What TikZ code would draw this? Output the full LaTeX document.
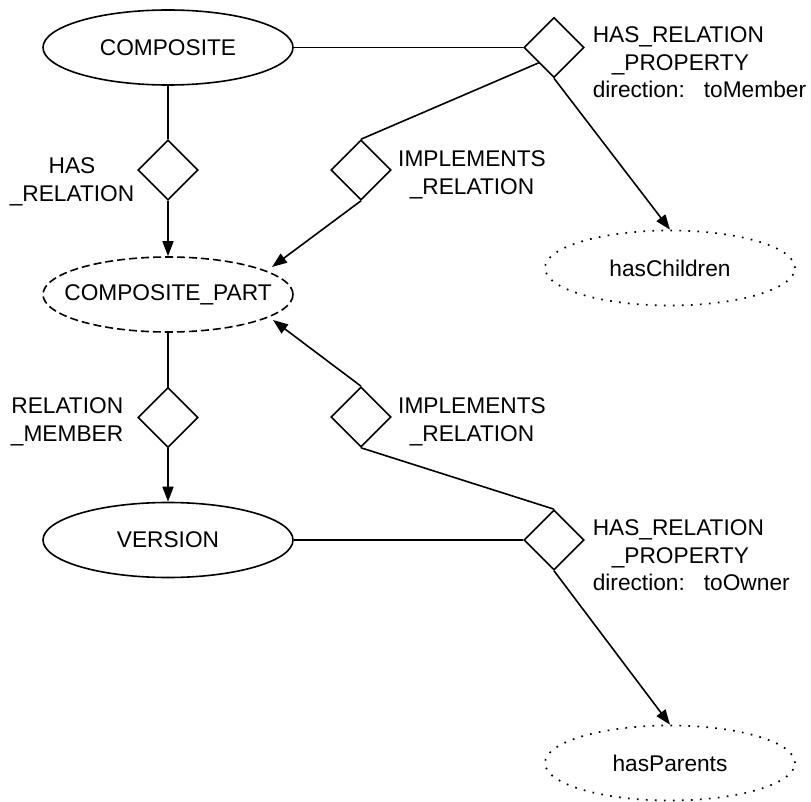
\documentclass[tikz,border=0pt]{standalone}
\usepackage{fontspec}
\setmainfont{Liberation Sans}
\usetikzlibrary{shapes.geometric,arrows.meta,calc}
% text that does not enlarge the ellipse around it
\newcommand\entitytext[1]{\makebox[0pt]{#1}}
\begin{document}
\begin{tikzpicture}[x=1pt,y=-1pt,
  font=\fontsize{22.7}{27.5}\selectfont,
  line width=1.6pt,
  entity/.style={ellipse,draw,minimum width=250pt,minimum height=75pt,inner sep=0pt},
  partentity/.style={entity,dash pattern=on 8pt off 4pt},
  attrentity/.style={entity,line width=1.7pt,dash pattern=on 1.7pt off 7.3pt},
  rel/.style={diamond,draw,shape aspect=1,minimum width=60pt,minimum height=60pt,inner sep=0pt},
  lbl/.style={inner sep=0pt},
  arr/.style={-{Triangle[length=15pt,width=11pt]}}
]
\useasboundingbox (0,0) rectangle (811,802);

% entities
\node[entity]      (composite)   at (168,47.5)  {\entitytext{COMPOSITE}};
\node[partentity]  (cpart)       at (168,294.5) {\entitytext{COMPOSITE\_PART}};
\node[entity]      (version)     at (168,540)   {\entitytext{VERSION}};
\node[attrentity]  (haschildren) at (670,268)   {\entitytext{hasChildren}};
\node[attrentity]  (hasparents)  at (670,763)   {\entitytext{hasParents}};

% relationships
\node[rel] (hasrel)  at (168,170)   {};
\node[rel] (relmem)  at (168,417.5) {};
\node[rel] (hrpTop)  at (554,47.5)  {};
\node[rel] (hrpBot)  at (554,540)   {};
\node[rel] (implTop) at (361,170)   {};
\node[rel] (implBot) at (361,417)   {};

% arrow ends on the part entity
\coordinate (cpNE) at ($(cpart.center)+(104,-27.5)$);
\coordinate (cpSE) at ($(cpart.center)+(105,25.5)$);

% labels
\node[lbl,anchor=north west,align=left] (lHrpTop) at (592,26)
  {HAS\_RELATION\\\hspace*{19pt}\_PROPERTY\\direction:\hspace{19pt}toMember};
\node[lbl,anchor=north west,align=left] (lHrpBot) at (592,519)
  {HAS\_RELATION\\\hspace*{19pt}\_PROPERTY\\direction:\hspace{19pt}toOwner};
\node[lbl,anchor=north,align=center] (lImplTop) at (472,150) {IMPLEMENTS\\\_RELATION};
\node[lbl,anchor=north,align=center] (lImplBot) at (472,397) {IMPLEMENTS\\\_RELATION};
\node[lbl,anchor=north,align=center] (lHasRel) at (72,157) {HAS\\\_RELATION};
\node[lbl,anchor=north east,align=right] (lRelMem) at (124,397) {RELATION\\\_MEMBER};

% connectors
\draw (composite.east) -- (hrpTop.west);
\draw (composite.south) -- (hasrel.north);
\draw[arr] (hasrel.south) -- (cpart.north);
\draw (hrpTop.south west) -- (implTop.north);
\draw[arr] (implTop.south) -- (cpNE);
\draw[arr] (hrpTop.south) -- (haschildren.north);
\draw (cpart.south) -- (relmem.north);
\draw[arr] (relmem.south) -- (version.north);
\draw[arr] (implBot.north) -- (cpSE);
\draw (implBot.south) -- (hrpBot.north);
\draw (version.east) -- (hrpBot.west);
\draw[arr] (hrpBot.south) -- (hasparents.north);
\end{tikzpicture}
\end{document}
